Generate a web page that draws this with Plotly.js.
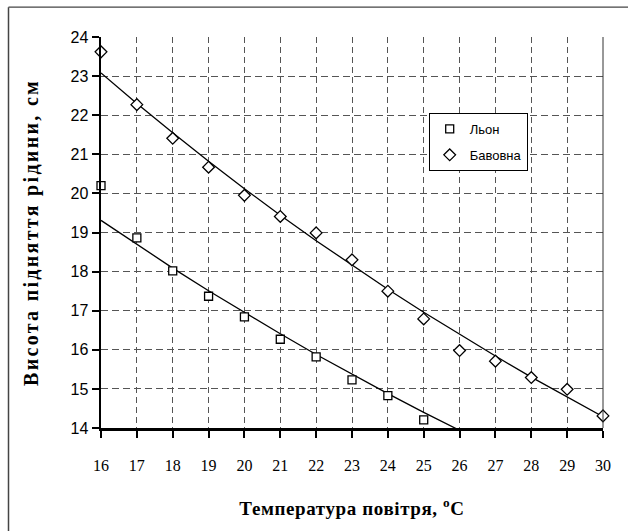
<!DOCTYPE html>
<html>
<head>
<meta charset="utf-8">
<script src="https://cdn.plot.ly/plotly-3.0.1.min.js"></script>
<style>
html,body{margin:0;padding:0;background:#fff;}
#chart{width:628px;height:531px;}
#chart .ytitle{letter-spacing:2.3px;}
#chart .xtitle{letter-spacing:0.6px;}
</style>
</head>
<body>
<div id="chart"></div>
<script>
// Temperature, °C
const temps = [16, 17, 18, 19, 20, 21, 22, 23, 24, 25, 26, 27, 28, 29, 30];
// Льон (flax) measured heights, cm (16..25)
const lonX = [16, 17, 18, 19, 20, 21, 22, 23, 24, 25];
const lonY = [20.20, 18.86, 18.02, 17.37, 16.84, 16.27, 15.82, 15.23, 14.83, 14.21];
// Бавовна (cotton) measured heights, cm (16..30)
const bavX = temps;
const bavY = [23.62, 22.27, 21.41, 20.67, 19.95, 19.41, 18.99, 18.30, 17.50, 16.79, 15.98, 15.71, 15.29, 14.99, 14.31];
// Trend lines
const lonTrendX = [16, 17, 18, 19, 20, 21, 22, 23, 24, 25, 26];
const lonTrendY = [19.31, 18.69, 18.09, 17.51, 16.95, 16.41, 15.88, 15.37, 14.88, 14.40, 13.94];
const bavTrendX = temps;
const bavTrendY = [23.08, 22.30, 21.55, 20.82, 20.12, 19.44, 18.79, 18.16, 17.55, 16.96, 16.39, 15.84, 15.30, 14.79, 14.29];
const yTicks = [14, 15, 16, 17, 18, 19, 20, 21, 22, 23, 24];

const lineStyle = {color: '#000', width: 1.3};
const traces = [
  {x: lonTrendX, y: lonTrendY, mode: 'lines', line: lineStyle, showlegend: false, hoverinfo: 'skip'},
  {x: bavTrendX, y: bavTrendY, mode: 'lines', line: lineStyle, showlegend: false, hoverinfo: 'skip'},
  {x: lonX, y: lonY, mode: 'markers', name: 'Льон', legendgroup: 'a',
   marker: {symbol: 'square', size: 8, color: '#fff', line: {color: '#000', width: 1.3}}, cliponaxis: false},
  {x: bavX, y: bavY, mode: 'markers', name: 'Бавовна', legendgroup: 'b',
   marker: {symbol: 'diamond', size: 9, color: '#fff', line: {color: '#000', width: 1.3}}, cliponaxis: false}
];

const X0 = 101, X1 = 603, Y0 = 37.3, Y1 = 428.3;
const px = v => (v - X0) / (X1 - X0);
const py = v => (Y1 - v) / (Y1 - Y0);

const layout = {
  width: 628, height: 531,
  margin: {l: X0, r: 628 - X1, t: Y0, b: 531 - Y1},
  paper_bgcolor: '#fff', plot_bgcolor: '#fff',
  showlegend: true,
  xaxis: {
    range: [16, 30], tickvals: temps, ticktext: temps.map(String),
    showline: true, linecolor: '#000', linewidth: 2.5,
    ticks: 'outside', ticklen: 7, tickwidth: 2, tickcolor: '#000',
    showgrid: true, gridcolor: '#555', gridwidth: 1, griddash: '6px,4px',
    zeroline: false, ticklabelstandoff: 14,
    tickfont: {family: 'Liberation Serif, Times New Roman, serif', size: 16, color: '#000'},
    title: {text: 'Температура повітря, <sup>o</sup>C', standoff: 29,
      font: {family: 'Liberation Serif, Times New Roman, serif', size: 19, color: '#000', weight: 'bold'}}
  },
  yaxis: {
    range: [14, 24], tickvals: yTicks,
    showline: true, linecolor: '#000', linewidth: 2.5,
    ticks: 'outside', ticklen: 7, tickwidth: 2, tickcolor: '#000',
    showgrid: true, gridcolor: '#555', gridwidth: 1, griddash: '7px,4px',
    zeroline: false,
    tickfont: {family: 'Liberation Sans, Arial, sans-serif', size: 16, color: '#000'},
    title: {text: 'Висота підняття рідини, см', standoff: 27,
      font: {family: 'Liberation Serif, Times New Roman, serif', size: 20, color: '#000', weight: 'bold'}}
  },
  legend: {
    x: px(428.7), y: py(113.3), xanchor: 'left', yanchor: 'top',
    bgcolor: '#fff', bordercolor: '#000', borderwidth: 1,
    tracegroupgap: 6, itemwidth: 30,
    font: {family: 'Liberation Sans, Arial, sans-serif', size: 13, color: '#000'}
  },
  shapes: [
    {type: 'line', xref: 'paper', yref: 'paper', x0: px(8.5), x1: px(640), y0: py(7.5), y1: py(7.5), line: {color: '#444', width: 1.3}},
    {type: 'line', xref: 'paper', yref: 'paper', x0: px(8.5), x1: px(8.5), y0: py(7.5), y1: py(545), line: {color: '#444', width: 1.5}},
    {type: 'line', xref: 'paper', yref: 'paper', x0: 1, x1: 1, y0: 0, y1: 1, line: {color: '#333', width: 1}}
  ]
};

Plotly.newPlot('chart', traces, layout, {displayModeBar: false, staticPlot: true});
</script>
</body>
</html>
